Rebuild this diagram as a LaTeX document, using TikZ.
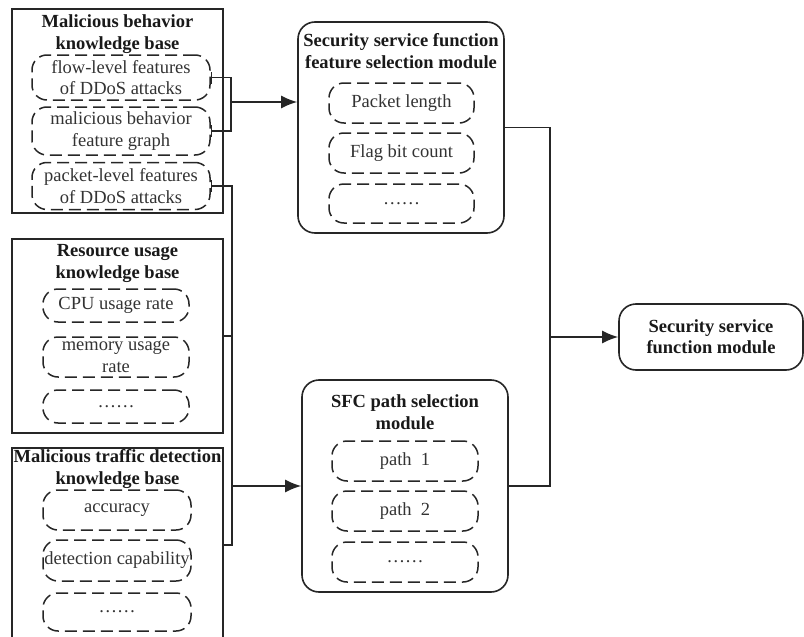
\documentclass[tikz,border=0pt]{standalone}
\usepackage{fontspec}
\setmainfont{Liberation Serif}
\usetikzlibrary{arrows.meta}
\begin{document}
\begin{tikzpicture}[x=1pt,y=-1pt,
  kb/.style={draw=black!85, line width=1.6pt, rectangle, inner sep=0pt},
  mod/.style={draw=black!85, line width=1.6pt, rectangle, rounded corners=17pt, inner sep=0pt},
  item/.style={draw=black!85, line width=1.5pt, dash pattern=on 12pt off 6pt, rectangle, rounded corners=15pt, inner sep=0pt, align=center, text=black!80, font=\fontsize{18.5}{21.5}\selectfont},
  ttl/.style={align=center, font=\fontsize{18.5}{22}\selectfont\bfseries, text=black!90, inner sep=0pt},
  conn/.style={draw=black!85, line width=1.6pt},
  tip/.style={-{Latex[length=16pt,width=13pt]}},
  bartip/.style={{Bar[width=12pt]}-},
]
\path[use as bounding box] (0,0) rectangle (804,637);
\clip (0,0) rectangle (804,637);

% left knowledge bases
\node[kb, minimum width=211pt, minimum height=204pt] (kb1) at (117.5,111) {};
\node[ttl] (t1) at (117.5,34) {Malicious behavior\\knowledge base};
\node[item, minimum width=178pt, minimum height=45pt] (i1a) at (121,77.5) {flow-level features\\of DDoS attacks};
\node[item, minimum width=178pt, minimum height=48pt] (i1b) at (121,131) {malicious behavior\\feature graph};
\node[item, minimum width=178pt, minimum height=47pt] (i1c) at (121,186) {packet-level features\\of DDoS attacks};

\node[kb, minimum width=211pt, minimum height=194pt] (kb2) at (117.5,336) {};
\node[ttl] (t2) at (117.5,263) {Resource usage\\knowledge base};
\node[item, minimum width=146pt, minimum height=33pt] (i2a) at (116,305.5) {CPU usage rate};
\node[item, minimum width=146pt, minimum height=40pt] (i2b) at (116,357) {memory usage\\rate};
\node[item, minimum width=146pt, minimum height=33pt] (i2c) at (116,406.5) {……};

\node[kb, minimum width=211pt, minimum height=252pt] (kb3) at (117.5,574) {};
\node[ttl] (t3) at (117.5,469) {Malicious traffic detection\\knowledge base};
\node[item, minimum width=148pt, minimum height=40pt] (i3a) at (117,510) {accuracy};
\node[item, minimum width=148pt, minimum height=41pt] (i3b) at (117,560.5) {detection capability};
\node[item, minimum width=148pt, minimum height=38pt] (i3c) at (117,612) {……};

% middle modules
\node[mod, minimum width=206pt, minimum height=211pt] (fsm) at (401,127.5) {};
\node[ttl] (t4) at (401,51.5) {Security service function\\feature selection module};
\node[item, minimum width=145pt, minimum height=40pt] (i4a) at (401.5,103) {Packet length};
\node[item, minimum width=145pt, minimum height=40pt] (i4b) at (401.5,153) {Flag bit count};
\node[item, minimum width=145pt, minimum height=39pt] (i4c) at (401.5,203.5) {……};

\node[mod, minimum width=206pt, minimum height=212pt] (sfc) at (405,486) {};
\node[ttl] (t5) at (405,412) {SFC path selection\\module};
\node[item, minimum width=146pt, minimum height=40pt] (i5a) at (405,461) {path\hspace{0.5em}1};
\node[item, minimum width=146pt, minimum height=40pt] (i5b) at (405,511) {path\hspace{0.5em}2};
\node[item, minimum width=146pt, minimum height=40pt] (i5c) at (405,562) {……};

% final module
\node[mod, minimum width=184pt, minimum height=66pt, align=center, font=\fontsize{18.5}{21}\selectfont\bfseries, text=black!90] (ssf) at (711,337) {Security service\\function module};

% connectors
\coordinate (jA) at (231,102);
\coordinate (jB) at (232,486);
\coordinate (jC) at (232,545);
\coordinate (jR) at (550,337);

\draw[conn, {Bar[width=12pt]}-{Bar[width=12pt]}] (i1a.east) -| (jA) |- (i1b.east);
\draw[conn, tip] (jA) -- (jA -| fsm.west);

\draw[conn, bartip] (i1c.east) -| (jC) -- (jC -| kb3.east);
\draw[conn] (kb2.east) -- (kb2.east -| jB);
\draw[conn, tip] (jB) -- (sfc.west);

\draw[conn] (fsm.east) -| (jR) |- (sfc.east);
\draw[conn, tip] (jR) -- (ssf.west);
\end{tikzpicture}
\end{document}
